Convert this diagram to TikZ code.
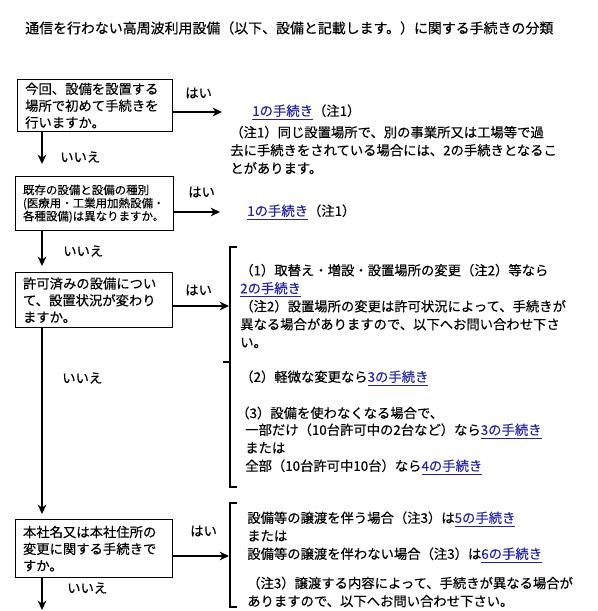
\documentclass[tikz,border=0pt]{standalone}
\usepackage{fontspec}
\setmainfont{Noto Sans CJK JP}[FakeBold=0.3]
\usetikzlibrary{arrows.meta}
\definecolor{linkblue}{HTML}{2424A0}
\newcommand{\lnk}[1]{\textcolor{linkblue}{\underline{#1}}}
\begin{document}
\begin{tikzpicture}[x=0.75pt,y=-0.75pt,
  font=\fontsize{10}{13.5}\selectfont,
  qbox/.style={draw, line width=1pt, align=left, anchor=north west,
    inner xsep=5.5pt, inner ysep=0pt, font=\fontsize{10}{12.6}\selectfont},
  lbl/.style={anchor=west, inner sep=0pt, align=left},
  arr/.style={line width=1.3pt, -{Stealth[length=7pt,width=6.5pt,inset=2.2pt]}},
  brk/.style={line width=1.7pt}]
\useasboundingbox (0,0) rectangle (598,611);

% title
\node[lbl, font=\fontsize{10.45}{13.5}\selectfont] (title) at (25,28)
  {通信を行わない高周波利用設備（以下、設備と記載します。）に関する手続きの分類};

% question boxes
\node[qbox, minimum width=116.25pt, minimum height=39pt, text width=105pt] (b1) at (17,79)
  {今回、設備を設置する\\場所で初めて手続きを\\行いますか。};
\node[qbox, minimum width=118.5pt, minimum height=40.5pt, text width=107.5pt,
  font=\fontsize{8.6}{9.8}\selectfont] (b2) at (15,176)
  {既存の設備と設備の種別\\(医療用・工業用加熱設備・\\各種設備)は異なりますか。};
\node[qbox, minimum width=117.75pt, minimum height=41.25pt, text width=106.75pt] (b3) at (15,272)
  {許可済みの設備につい\\て、設置状況が変わり\\ますか。};
\node[qbox, minimum width=117.75pt, minimum height=43.5pt, text width=106.75pt] (b4) at (15,519)
  {本社名又は本社住所の\\変更に関する手続きで\\すか。};

% yes / no labels
\node[lbl] (y1) at (185,93) {はい};
\node[lbl] (y2) at (188,192) {はい};
\node[lbl] (y3) at (185,290) {はい};
\node[lbl] (y4) at (190,531) {はい};
\node[lbl] (n1) at (60,157) {いいえ};
\node[lbl] (n2) at (63,251) {いいえ};
\node[lbl] (n3) at (62,378) {いいえ};
\node[lbl] (n4) at (67,588) {いいえ};

% row 1
\node[lbl] (r1) at (252,112) {\lnk{1の手続き}（注1）};
\node[lbl] (note1) at (230,150)
  {（注1）同じ設置場所で、別の事業所又は工場等で過\\去に手続きをされている場合には、2の手続きとなるこ\\とがあります。};
% row 2
\node[lbl] (r2) at (247,212) {\lnk{1の手続き}（注1）};

% row 3 texts
\node[lbl] (t31) at (240,306)
  {（1）取替え・増設・設置場所の変更（注2）等なら\\\lnk{2の手続き}\\（注2）設置場所の変更は許可状況によって、手続きが\\異なる場合がありますので、以下へお問い合わせ下さ\\い。};
\node[lbl] (t32) at (240,378) {（2）軽微な変更なら\lnk{3の手続き}};
\node[lbl] (t33) at (236,413) {（3）設備を使わなくなる場合で、};
\node[lbl] (t34) at (245,449)
  {一部だけ（10台許可中の2台など）なら\lnk{3の手続き}\\または\\全部（10台許可中10台）なら\lnk{4の手続き}};

% row 4 texts
\node[lbl] (t41) at (247,537)
  {設備等の譲渡を伴う場合（注3）は\lnk{5の手続き}\\または\\設備等の譲渡を伴わない場合（注3）は\lnk{6の手続き}};
\node[lbl] (t42) at (247,592)
  {（注3）譲渡する内容によって、手続きが異なる場合が\\ありますので、以下へお問い合わせ下さい。};

% brackets
\draw[brk] (237,247) -- (230,247) -- (230,487) -- (237,487);
\draw[brk] (230,362) -- (223,362);
\draw[brk] (237,503) -- (230,503) -- (230,607) -- (237,607);

% connector end points
\coordinate (h1) at (222,112);
\coordinate (h2) at (220,212);
\coordinate (h3) at (229,306);
\coordinate (h4) at (229,556);
\coordinate (d1) at (42,164);
\coordinate (d2) at (42,266);
\coordinate (d3) at (42,514);
\coordinate (d4) at (42,610);

\draw[arr] (b1.east |- h1) -- (h1);
\draw[arr] (b2.east |- h2) -- (h2);
\draw[arr] (b3.east |- h3) -- (h3);
\draw[arr] (b4.east |- h4) -- (h4);
\draw[arr] (b1.south -| d1) -- (d1);
\draw[arr] (b2.south -| d2) -- (d2);
\draw[arr] (b3.south -| d3) -- (d3);
\draw[arr] (b4.south -| d4) -- (d4);
\end{tikzpicture}
\end{document}
